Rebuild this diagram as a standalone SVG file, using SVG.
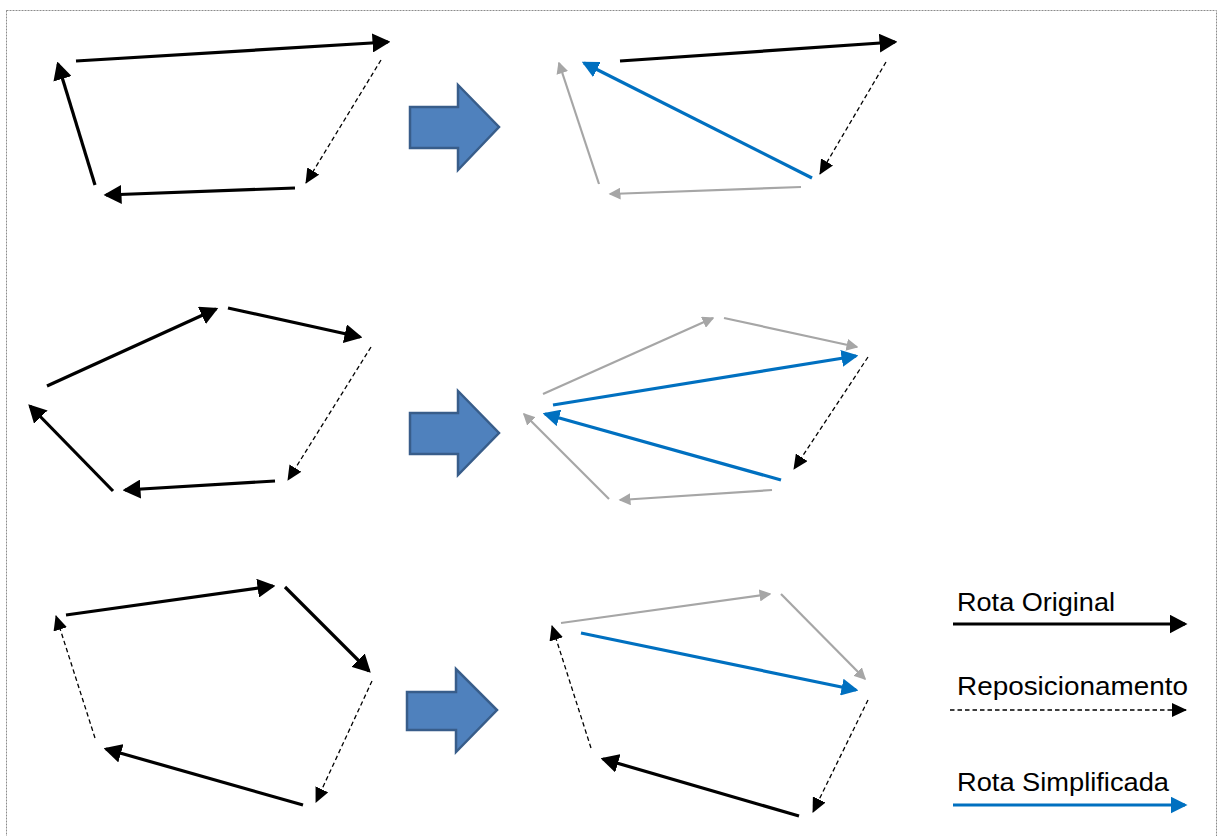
<svg xmlns="http://www.w3.org/2000/svg" width="1218" height="836" viewBox="0 0 1218 836">
  <style>
    .orig { stroke: #000; stroke-width: 3.2; fill: none; marker-end: url(#hBlack); }
    .rep { stroke: #000; stroke-width: 1.3; fill: none; stroke-dasharray: 4.5 3; marker-end: url(#hDash); }
    .old { stroke: #A6A6A6; stroke-width: 2.2; fill: none; marker-end: url(#hGray); }
    .simp { stroke: #0070C0; stroke-width: 3.2; fill: none; marker-end: url(#hBlue); }
    .step { fill: #4F81BD; stroke: #385D8A; stroke-width: 2.5; stroke-linejoin: miter; }
    .lbl { font-family: "Liberation Sans", Arial, sans-serif; font-size: 25px; fill: #000; }
  </style>
  <defs>
    <marker id="hBlack" markerUnits="userSpaceOnUse" viewBox="0 0 18 19" refX="15.5" refY="9.5" markerWidth="18" markerHeight="19" orient="auto">
      <path d="M0,0 L18,9.5 L0,19 z" fill="#000"/>
    </marker>
    <marker id="hDash" markerUnits="userSpaceOnUse" viewBox="0 0 15 14" refX="14" refY="7" markerWidth="15" markerHeight="14" orient="auto">
      <path d="M0,0 L15,7 L0,14 z" fill="#000"/>
    </marker>
    <marker id="hGray" markerUnits="userSpaceOnUse" viewBox="0 0 12 12" refX="10.5" refY="6" markerWidth="12" markerHeight="12" orient="auto">
      <path d="M0,0 L12,6 L0,12 z" fill="#A6A6A6"/>
    </marker>
    <marker id="hBlue" markerUnits="userSpaceOnUse" viewBox="0 0 17 17" refX="14.5" refY="8.5" markerWidth="17" markerHeight="17" orient="auto">
      <path d="M0,0 L17,8.5 L0,17 z" fill="#0070C0"/>
    </marker>
  </defs>

  <rect width="1218" height="836" fill="#fff"/>
  <!-- dotted frame (bottom edge lies outside the canvas) -->
  <rect x="6.5" y="10.5" width="1210" height="840" fill="none" stroke="#8c8c8c" stroke-width="1" stroke-dasharray="2 1"/>

  <!-- transition arrows -->
  <g id="step-1"><path class="step" d="M410,107 H458 V85 L499,127 L458,170 V148 H410 Z"/></g>
  <g id="step-2"><path class="step" d="M410,413 H458 V391 L499,433 L458,475 V454 H410 Z"/></g>
  <g id="step-3"><path class="step" d="M407,692 H456 V669 L497,710 L456,752 V730 H407 Z"/></g>

  <g id="connectors">
    <!-- route 1: original -->
    <line class="orig" x1="76" y1="61" x2="388" y2="42"/>
    <line class="rep" x1="381" y1="60" x2="306" y2="183"/>
    <line class="orig" x1="295" y1="188" x2="106" y2="195"/>
    <line class="orig" x1="95" y1="185" x2="58" y2="64"/>
    <!-- route 1: simplified -->
    <line class="orig" x1="620" y1="61" x2="895" y2="42"/>
    <line class="rep" x1="886" y1="62" x2="820" y2="174"/>
    <line class="old" x1="801" y1="187" x2="610" y2="194"/>
    <line class="old" x1="599" y1="184" x2="559" y2="63"/>
    <line class="simp" x1="812" y1="178" x2="584" y2="63"/>

    <!-- route 2: original -->
    <line class="orig" x1="47" y1="386" x2="216" y2="309"/>
    <line class="orig" x1="228" y1="308" x2="360" y2="337"/>
    <line class="rep" x1="371" y1="347" x2="288" y2="480"/>
    <line class="orig" x1="275" y1="481" x2="125" y2="490"/>
    <line class="orig" x1="113" y1="491" x2="30" y2="406"/>
    <!-- route 2: simplified -->
    <line class="old" x1="543" y1="394" x2="713" y2="318"/>
    <line class="old" x1="724" y1="318" x2="857" y2="347"/>
    <line class="rep" x1="868" y1="357" x2="794" y2="469"/>
    <line class="old" x1="772" y1="490" x2="620" y2="500"/>
    <line class="old" x1="609" y1="499" x2="524" y2="414"/>
    <line class="simp" x1="553" y1="405" x2="856" y2="356"/>
    <line class="simp" x1="781" y1="480" x2="545" y2="414"/>

    <!-- route 3: original -->
    <line class="orig" x1="66" y1="615" x2="273" y2="586"/>
    <line class="orig" x1="285" y1="587" x2="369" y2="671"/>
    <line class="rep" x1="372" y1="681" x2="316" y2="802"/>
    <line class="orig" x1="303" y1="805" x2="106" y2="749"/>
    <line class="rep" x1="95" y1="738" x2="56" y2="616"/>
    <!-- route 3: simplified -->
    <line class="old" x1="561" y1="623" x2="770" y2="594"/>
    <line class="old" x1="781" y1="594" x2="865" y2="679"/>
    <line class="rep" x1="868" y1="700" x2="813" y2="812"/>
    <line class="orig" x1="799" y1="816" x2="603" y2="759"/>
    <line class="rep" x1="591" y1="748" x2="552" y2="626"/>
    <line class="simp" x1="581" y1="633" x2="856" y2="690"/>

    <!-- legend samples -->
    <line class="orig" x1="953" y1="624" x2="1185" y2="624"/>
    <line class="rep" x1="950" y1="710" x2="1186" y2="710"/>
    <line class="simp" x1="953" y1="805" x2="1185" y2="805"/>
  </g>

  <g id="legend">
    <text class="lbl" x="957" y="611" textLength="158" lengthAdjust="spacingAndGlyphs">Rota Original</text>
    <text class="lbl" x="957" y="695" textLength="231" lengthAdjust="spacingAndGlyphs">Reposicionamento</text>
    <text class="lbl" x="957" y="791" textLength="212" lengthAdjust="spacingAndGlyphs">Rota Simplificada</text>
  </g>
</svg>
